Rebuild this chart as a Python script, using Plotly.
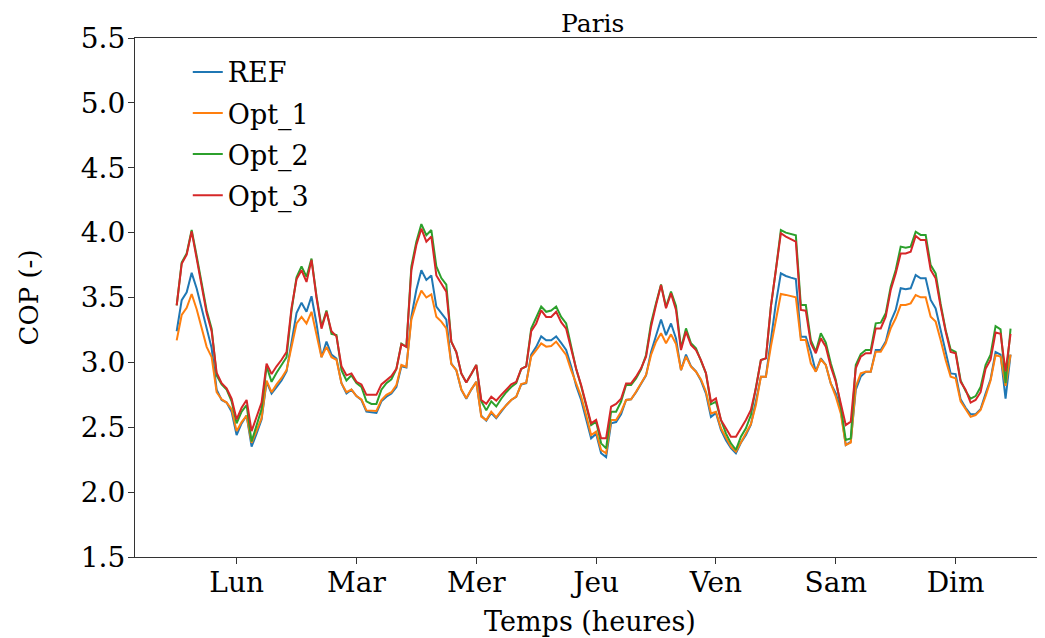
import plotly.graph_objects as go

# Hourly COP over one week (168 h)
hours = list(range(168))

ref = [3.24, 3.48, 3.54, 3.69, 3.57, 3.42, 3.25, 3.11, 2.79, 2.71, 2.69, 2.62,
       2.44, 2.53, 2.59, 2.35, 2.45, 2.56, 2.85, 2.76, 2.81, 2.86, 2.93, 3.17,
       3.38, 3.46, 3.39, 3.51, 3.30, 3.04, 3.16, 3.06, 3.03, 2.84, 2.76, 2.79,
       2.74, 2.71, 2.62, 2.615, 2.61, 2.70, 2.735, 2.76, 2.81, 2.97, 2.96, 3.35,
       3.56, 3.71, 3.635, 3.67, 3.43, 3.38, 3.33, 2.99, 2.94, 2.79, 2.72, 2.79,
       2.85, 2.59, 2.55, 2.61, 2.57, 2.62, 2.67, 2.71, 2.735, 2.83, 2.84, 3.06,
       3.12, 3.20, 3.17, 3.17, 3.20, 3.15, 3.095, 2.97, 2.82, 2.71, 2.57, 2.415,
       2.45, 2.30, 2.27, 2.53, 2.54, 2.60, 2.71, 2.715, 2.77, 2.84, 2.90, 3.08,
       3.21, 3.33, 3.21, 3.30, 3.185, 2.94, 3.06, 2.97, 2.93, 2.86, 2.76, 2.58,
       2.61, 2.48, 2.40, 2.34, 2.30, 2.38, 2.44, 2.52, 2.70, 2.89, 2.89, 3.17,
       3.455, 3.686, 3.666, 3.653, 3.643, 3.198, 3.198, 3.082, 2.928, 3.031, 2.98, 2.838,
       2.761, 2.633, 2.363, 2.389, 2.787, 2.89, 2.928, 2.928, 3.095, 3.095, 3.16, 3.314,
       3.404, 3.571, 3.563, 3.571, 3.673, 3.648, 3.648, 3.481, 3.416, 3.25, 3.07, 2.915,
       2.91, 2.715, 2.65, 2.60, 2.60, 2.64, 2.76, 2.87, 3.08, 3.06, 2.72, 3.06]

opt_1 = [3.17, 3.365, 3.42, 3.527, 3.41, 3.27, 3.12, 3.04, 2.77, 2.715, 2.69, 2.64,
         2.47, 2.54, 2.59, 2.38, 2.48, 2.57, 2.86, 2.77, 2.83, 2.88, 2.94, 3.12,
         3.30, 3.35, 3.30, 3.39, 3.22, 3.04, 3.12, 3.04, 3.02, 2.84, 2.77, 2.79,
         2.74, 2.715, 2.63, 2.63, 2.625, 2.71, 2.75, 2.77, 2.825, 2.98, 2.965, 3.33,
         3.455, 3.553, 3.50, 3.524, 3.352, 3.314, 3.262, 2.987, 2.941, 2.792, 2.723, 2.792,
         2.851, 2.582, 2.556, 2.62, 2.576, 2.628, 2.671, 2.71, 2.736, 2.833, 2.844, 3.044,
         3.095, 3.147, 3.121, 3.126, 3.16, 3.108, 3.057, 2.94, 2.83, 2.736, 2.594, 2.44,
         2.466, 2.325, 2.299, 2.556, 2.556, 2.62, 2.71, 2.715, 2.774, 2.838, 2.903, 3.057,
         3.16, 3.224, 3.147, 3.216, 3.142, 2.941, 3.044, 2.967, 2.928, 2.869, 2.774, 2.607,
         2.62, 2.492, 2.415, 2.35, 2.312, 2.389, 2.453, 2.525, 2.672, 2.89, 2.89, 3.121,
         3.327, 3.527, 3.52, 3.512, 3.501, 3.172, 3.172, 2.993, 2.928, 3.023, 2.98, 2.838,
         2.736, 2.607, 2.363, 2.381, 2.813, 2.915, 2.928, 2.928, 3.082, 3.082, 3.147, 3.262,
         3.34, 3.442, 3.442, 3.455, 3.519, 3.501, 3.501, 3.352, 3.314, 3.172, 3.018, 2.89,
         2.877, 2.70, 2.64, 2.58, 2.594, 2.633, 2.74, 2.86, 3.057, 3.044, 2.82, 3.06]

opt_2 = [3.44, 3.77, 3.84, 4.02, 3.82, 3.62, 3.40, 3.26, 2.90, 2.83, 2.79, 2.70,
         2.53, 2.62, 2.67, 2.39, 2.52, 2.64, 2.97, 2.85, 2.92, 2.98, 3.04, 3.40,
         3.655, 3.74, 3.66, 3.80, 3.51, 3.275, 3.40, 3.22, 3.21, 2.94, 2.86, 2.90,
         2.84, 2.81, 2.70, 2.68, 2.68, 2.79, 2.84, 2.87, 2.95, 3.145, 3.12, 3.74,
         3.93, 4.066, 3.98, 4.02, 3.74, 3.65, 3.60, 3.16, 3.08, 2.915, 2.845, 2.91,
         2.98, 2.70, 2.63, 2.70, 2.66, 2.72, 2.77, 2.81, 2.84, 2.95, 2.97, 3.26,
         3.34, 3.43, 3.39, 3.40, 3.43, 3.35, 3.30, 3.12, 2.95, 2.818, 2.659, 2.517,
         2.543, 2.376, 2.337, 2.62, 2.62, 2.697, 2.826, 2.826, 2.877, 2.946, 3.057, 3.301,
         3.455, 3.60, 3.429, 3.545, 3.434, 3.108, 3.262, 3.147, 3.108, 3.018, 2.916, 2.677,
         2.697, 2.556, 2.453, 2.376, 2.325, 2.427, 2.492, 2.594, 2.80, 3.018, 3.031, 3.429,
         3.712, 4.02, 4.0, 3.99, 3.98, 3.442, 3.442, 3.172, 3.082, 3.224, 3.152, 2.993,
         2.864, 2.659, 2.402, 2.414, 2.98, 3.064, 3.095, 3.095, 3.301, 3.306, 3.378, 3.583,
         3.712, 3.892, 3.884, 3.892, 4.007, 3.982, 3.982, 3.75, 3.686, 3.45, 3.25, 3.10,
         3.08, 2.86, 2.78, 2.72, 2.74, 2.81, 2.98, 3.06, 3.28, 3.255, 2.84, 3.26]

opt_3 = [3.44, 3.76, 3.83, 4.01, 3.80, 3.60, 3.38, 3.24, 2.92, 2.84, 2.80, 2.72,
         2.56, 2.65, 2.71, 2.47, 2.58, 2.69, 2.99, 2.91, 2.97, 3.02, 3.08, 3.42,
         3.64, 3.71, 3.62, 3.79, 3.50, 3.26, 3.39, 3.24, 3.20, 2.97, 2.90, 2.915,
         2.85, 2.83, 2.75, 2.75, 2.75, 2.83, 2.86, 2.895, 2.95, 3.14, 3.12, 3.71,
         3.905, 4.03, 3.93, 3.97, 3.67, 3.61, 3.545, 3.16, 3.08, 2.915, 2.845, 2.91,
         2.98, 2.71, 2.68, 2.735, 2.705, 2.75, 2.79, 2.83, 2.85, 2.95, 2.97, 3.24,
         3.30, 3.40, 3.35, 3.35, 3.39, 3.31, 3.26, 3.11, 2.95, 2.826, 2.671, 2.53,
         2.556, 2.415, 2.415, 2.659, 2.68, 2.72, 2.838, 2.838, 2.89, 2.954, 3.044, 3.275,
         3.442, 3.596, 3.417, 3.532, 3.404, 3.095, 3.237, 3.134, 3.095, 3.018, 2.916, 2.697,
         2.723, 2.556, 2.492, 2.427, 2.427, 2.492, 2.556, 2.633, 2.80, 3.018, 3.031, 3.429,
         3.712, 3.995, 3.97, 3.95, 3.93, 3.404, 3.398, 3.147, 3.07, 3.185, 3.121, 2.967,
         2.851, 2.684, 2.517, 2.543, 2.954, 3.044, 3.07, 3.07, 3.262, 3.262, 3.352, 3.558,
         3.686, 3.84, 3.84, 3.853, 3.974, 3.943, 3.943, 3.712, 3.648, 3.43, 3.24, 3.08,
         3.07, 2.85, 2.79, 2.69, 2.71, 2.77, 2.95, 3.02, 3.23, 3.22, 2.93, 3.22]

series = {'REF': ref, 'Opt_1': opt_1, 'Opt_2': opt_2, 'Opt_3': opt_3}
colors = ['#1f77b4', '#ff7f0e', '#2ca02c', '#d62728']

day_ticks = [12, 36, 60, 84, 108, 132, 156]
day_labels = ['Lun', 'Mar', 'Mer', 'Jeu', 'Ven', 'Sam', 'Dim']

fig = go.Figure()
for (name, vals), col in zip(series.items(), colors):
    fig.add_trace(go.Scatter(x=hours, y=vals, mode='lines', name=name,
                             legendgroup=name,
                             line=dict(color=col, width=2)))

# the page body has an 8 px margin, so the figure is a bit smaller than the window
axis_col = '#333333'
fig.update_layout(
    width=1037, height=630,
    margin=dict(l=127, r=0, t=30, b=81),
    plot_bgcolor='white', paper_bgcolor='white',
    font=dict(family='DejaVu Serif', size=28, color='black'),
    title=dict(text='Paris', x=0.503, xref='paper', xanchor='center',
               y=1 - 15 / 630, yref='container', yanchor='middle',
               font=dict(family='DejaVu Serif', size=25)),
    showlegend=True,
    legend=dict(x=0.058, y=0.981, xanchor='left', yanchor='top',
                bgcolor='rgba(0,0,0,0)', font=dict(size=27),
                tracegroupgap=3),
)
fig.update_xaxes(range=[-8.35, 173.9], tickvals=day_ticks, ticktext=day_labels,
                 showgrid=False, zeroline=False, showline=True, mirror=True,
                 linecolor=axis_col, linewidth=1.3, ticks='outside', ticklen=6,
                 tickcolor=axis_col, tickwidth=1.3, automargin=False,
                 ticklabelstandoff=-6,
                 title=dict(text='Temps (heures)', standoff=14,
                            font=dict(family='DejaVu Serif', size=27)))
fig.update_yaxes(range=[1.5, 5.5], dtick=0.5, tick0=1.5, tickformat='.1f',
                 showgrid=False, zeroline=False, showline=True,
                 linecolor=axis_col, linewidth=1.3, ticks='outside', ticklen=6,
                 tickcolor=axis_col, tickwidth=1.3, automargin=False,
                 ticklabelstandoff=-3,
                 title=dict(text='COP (-)', standoff=34,
                            font=dict(family='DejaVu Serif', size=26)))

fig.write_html("out.html")
